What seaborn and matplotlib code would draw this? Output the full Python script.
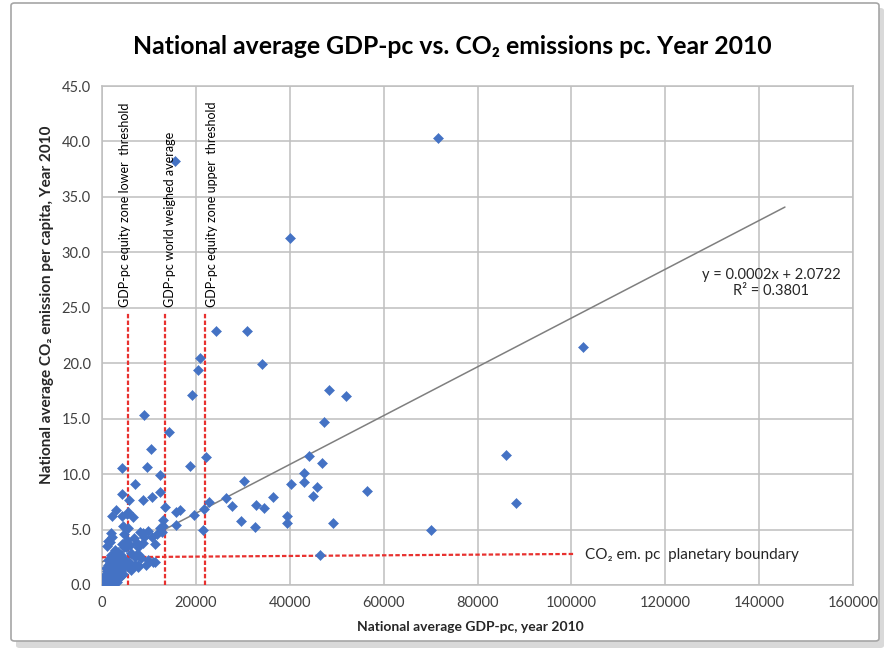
import numpy as np
import pandas as pd
import matplotlib
matplotlib.use("Agg")
import matplotlib.pyplot as plt
import seaborn as sns
from matplotlib.patches import FancyBboxPatch

# ---- data ----
gdp = [71500, 15500, 40000, 24200, 30800, 20900, 20500, 34100, 19200, 48300,
       51900, 102500, 86100, 88200, 70000, 47300, 44100, 46800, 43100, 43100,
       45900, 44900, 56400, 49300, 46500, 40300, 30300, 36400, 27800, 32900,
       34600, 29600, 32500, 39500, 39500, 22100, 18800, 16600, 19700, 21700,
       22900, 26400, 21500, 14300, 10500, 4300, 9500, 12300, 7100, 4300,
       5750, 8700, 10700, 12300, 13500, 2900, 9000, 4300, 5400, 5600,
       6500, 2200, 4500, 5600, 12900, 12900, 15700, 12350, 4750, 2200,
       1200, 6750, 8700, 8900, 10600, 11700, 12700, 11300, 8800, 7700,
       7300, 7900, 4200, 4750, 5300, 11300, 9400, 7600, 5800, 2200,
       1800, 2800, 3100, 600, 8000, 9800, 7500, 5200, 5900, 3400,
       4100, 6200, 7000, 8400, 9800, 10900, 7000, 7700, 6200, 4800,
       5400, 4500, 2000, 2700, 1300, 1600, 1100, 2000, 15700,
       300, 400, 500, 600, 700, 800, 900, 1000, 1100, 1200,
       1300, 1400, 1500, 1600, 1700, 1800, 1900, 2000, 2100, 2200,
       2300, 2400, 2500, 2600, 2700, 2800, 3000, 3100, 3200, 3400,
       3600, 3800, 4000, 3500, 4200, 1000, 700, 500, 1500, 2500,
       4500, 3300, 2000, 1200, 800]
co2 = [40.3, 38.2, 31.3, 22.9, 22.9, 20.5, 19.4, 19.9, 17.1, 17.6,
       17.0, 21.5, 11.7, 7.4, 5.0, 14.7, 11.6, 11.0, 10.1, 9.3,
       8.8, 8.0, 8.45, 5.6, 2.7, 9.1, 9.35, 7.9, 7.1, 7.2,
       6.9, 5.8, 5.2, 6.2, 5.6, 11.5, 10.7, 6.8, 6.3, 6.85,
       7.5, 7.85, 5.0, 13.8, 12.3, 10.55, 10.6, 9.9, 9.1, 8.2,
       7.7, 7.7, 7.9, 8.4, 7.0, 6.8, 15.3, 6.2, 6.4, 6.6,
       6.1, 6.2, 5.3, 5.1, 5.9, 5.3, 5.4, 5.1, 4.6, 4.3,
       4.0, 4.2, 4.7, 4.35, 4.35, 4.6, 4.8, 3.7, 3.75, 3.4,
       2.7, 2.7, 3.7, 3.45, 4.05, 2.1, 1.8, 1.8, 2.1, 2.55,
       2.0, 3.15, 0.45, 0.3, 4.8, 4.9, 3.75, 3.4, 3.6, 3.0,
       2.7, 2.85, 2.55, 2.4, 2.25, 2.1, 1.8, 1.65, 1.35, 2.25,
       1.8, 1.5, 2.7, 2.4, 2.25, 3.9, 3.5, 4.65, 6.6,
       0.1, 0.2, 0.05, 0.15, 0.3, 0.1, 0.4, 0.2, 0.6, 0.3,
       0.8, 0.5, 1.0, 0.4, 0.7, 1.2, 0.9, 1.5, 0.6, 1.1,
       1.8, 0.8, 1.4, 0.3, 1.0, 1.7, 1.2, 2.0, 0.7, 1.5,
       1.0, 1.9, 1.3, 2.2, 0.9, 1.3, 0.9, 0.6, 1.6, 2.0,
       1.0, 0.25, 0.15, 1.8, 1.5]

threshold_x = [5600, 13500, 22000]
threshold_labels = ["GDP-pc equity zone lower  threshold",
                    "GDP-pc world weighed average",
                    "GDP-pc equity zone upper  threshold"]
boundary_y = [2.5, 2.8]
boundary_x = [0, 100800]
trend_slope = 0.00022
trend_intercept = 2.0722
trend_x = [0, 145500]

x_ticks = [0, 20000, 40000, 60000, 80000, 100000, 120000, 140000, 160000]
y_ticks = [0, 5, 10, 15, 20, 25, 30, 35, 40, 45]

df = pd.DataFrame({"gdp": gdp, "co2": co2})

sns.set_theme(style="white")
plt.rcParams["font.family"] = ["Lato", "DejaVu Sans"]

W, H = 891, 652
fig = plt.figure(figsize=(W / 100, H / 100), dpi=100)
fig.patch.set_facecolor("white")

# chart frame with shadow
shadow = FancyBboxPatch((16 / W, 1 - 648 / H), 868 / W, 640 / H,
                        boxstyle="round,pad=0,rounding_size=0.004",
                        transform=fig.transFigure, facecolor="#d9d9d9",
                        edgecolor="none", zorder=0)
frame = FancyBboxPatch((11 / W, 1 - 641 / H), 868 / W, 638 / H,
                       boxstyle="round,pad=0,rounding_size=0.004",
                       transform=fig.transFigure, facecolor="white",
                       edgecolor="#a6a6a6", linewidth=1.2, zorder=1)
fig.patches.extend([shadow, frame])

ax = fig.add_axes([102 / W, 1 - 585 / H, (853 - 102) / W, (585 - 86) / H])
ax.set_facecolor("white")
ax.set_zorder(2)

sns.scatterplot(data=df, x="gdp", y="co2", marker="D", s=26,
                color="#4472C4", edgecolor="#4472C4", linewidth=0.4,
                ax=ax, zorder=4, legend=False)

# trend line
tx = np.array(trend_x, dtype=float)
ax.plot(tx, trend_slope * tx + trend_intercept, color="#7f7f7f", lw=1.1, zorder=3)

# threshold lines
red = "#e8312f"
for xv in threshold_x:
    ax.plot([xv, xv], [0, 24.6], color=red, lw=1.6, ls=(0, (2, 1)), zorder=3)
ax.plot(boundary_x, boundary_y, color=red, lw=1.6, ls=(0, (2, 1)), zorder=3)

label_x = [5000, 14500, 23400]
for xv, lab in zip(label_x, threshold_labels):
    ax.text(xv, 25.1, lab, rotation=90, ha="center", va="bottom",
            fontsize=9, color="#000000", zorder=5)

ax.text(102800, 2.75, "CO₂ em. pc  planetary boundary", ha="left",
        va="center", fontsize=11, color="#262626", zorder=5)

ax.text(142600, 27.2, "y = 0.0002x + 2.0722\nR² = 0.3801", ha="center",
        va="center", fontsize=10.5, color="#262626", linespacing=1.2, zorder=5)

ax.set_xlim(0, 160000)
ax.set_ylim(0, 45)
ax.set_xticks(x_ticks)
ax.set_xticklabels([str(v) for v in x_ticks])
ax.set_yticks(y_ticks)
ax.set_yticklabels([f"{v:.1f}" for v in y_ticks])
ax.grid(True, color="#bfbfbf", lw=1.1)
ax.set_axisbelow(True)
for sp in ax.spines.values():
    sp.set_color("#bfbfbf")
    sp.set_linewidth(1.1)
ax.tick_params(axis="both", length=0, labelsize=10.5, colors="#404040")
ax.tick_params(axis="x", pad=8)
ax.tick_params(axis="y", pad=8)
ax.set_xlabel("")
ax.set_ylabel("")

fig.text(0.508, 1 - 47 / H, "National average GDP-pc vs. CO₂ emissions pc. Year 2010",
         ha="center", va="center", fontsize=17.8, fontweight="bold", color="#000000")
fig.text(470 / W, 1 - 627 / H, "National average GDP-pc, year 2010",
         ha="center", va="center", fontsize=10, fontweight="bold", color="#262626")
fig.text(47 / W, 1 - 305 / H, "National average CO₂ emission per capita, Year 2010",
         ha="center", va="center", rotation=90, fontsize=11, fontweight="bold",
         color="#262626")

fig.savefig("out.png", dpi=100, facecolor="white")
